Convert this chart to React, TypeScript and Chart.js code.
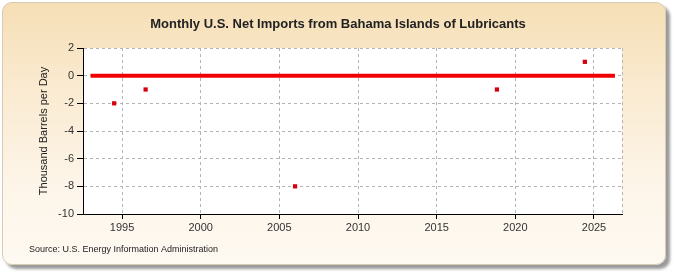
import React, { useEffect, useRef } from "react";
import { Chart, registerables } from "chart.js";

Chart.register(...registerables);

const TITLE = "Monthly U.S. Net Imports from Bahama Islands of Lubricants";
const Y_TITLE = "Thousand Barrels per Day";
const SOURCE = "Source: U.S. Energy Information Administration";

// Monthly series: zero throughout the period, plus a few isolated non-zero months
const zeroPeriod = [1993.0, 2026.33]; // first and last month shown (decimal year)
const pointDates = [1994.5, 1996.5, 2006.0, 2018.83, 2024.42];
const pointValues = [-2, -1, -8, -1, 1];

const xTicks = [1995, 2000, 2005, 2010, 2015, 2020, 2025];
const yTicks = [2, 0, -2, -4, -6, -8, -10];
const xRange = [1992.52, 2026.78];
const yRange = [-10, 2];

const FONT = "'Liberation Sans', Arial, sans-serif";

const decorPlugin = {
  id: "decor",
  beforeDraw(chart: any) {
    const { ctx, chartArea: a } = chart;
    ctx.save();
    ctx.fillStyle = "#ffffff";
    ctx.fillRect(a.left, a.top, a.right - a.left, a.bottom - a.top);
    ctx.restore();
  },
  afterDraw(chart: any) {
    const { ctx, chartArea: a } = chart;
    ctx.save();
    // right dashed border
    ctx.strokeStyle = "#b4b4b4";
    ctx.lineWidth = 1;
    ctx.setLineDash([3, 3]);
    ctx.beginPath();
    ctx.moveTo(Math.round(a.right) + 0.5, a.top);
    ctx.lineTo(Math.round(a.right) + 0.5, a.bottom);
    ctx.stroke();
    ctx.setLineDash([]);
    // title
    ctx.fillStyle = "#222";
    ctx.font = `bold 13px ${FONT}`;
    ctx.textAlign = "center";
    ctx.textBaseline = "middle";
    ctx.fillText(TITLE, 338, 24);
    // y title
    ctx.font = `11px ${FONT}`;
    ctx.fillStyle = "#222";
    ctx.translate(44, (a.top + a.bottom) / 2);
    ctx.rotate(-Math.PI / 2);
    ctx.fillText(Y_TITLE, 0, 0);
    ctx.setTransform(1, 0, 0, 1, 0, 0);
    // source
    ctx.font = `9px ${FONT}`;
    ctx.textAlign = "left";
    ctx.fillText(SOURCE, 29, 250);
    ctx.restore();
  },
};

export default function App() {
  const ref = useRef<HTMLCanvasElement>(null);
  useEffect(() => {
    const canvas = ref.current!;
    const chart = new Chart(canvas, {
      type: "scatter",
      data: {
        datasets: [
          {
            type: "line",
            data: zeroPeriod.map((x) => ({ x, y: 0 })),
            borderColor: "#f00000",
            borderWidth: 4,
            pointRadius: 0,
            borderCapStyle: "butt",
          },
          {
            type: "scatter",
            data: pointDates.map((x, i) => ({ x, y: pointValues[i] })),
            backgroundColor: "#d8000f",
            borderWidth: 0,
            pointStyle: "rect",
            pointRadius: 3,
          },
        ],
      },
      plugins: [decorPlugin],
      options: {
        animation: false,
        responsive: false,
        events: [],
        layout: { padding: { left: 0, right: 53, top: 48, bottom: 41 } },
        plugins: { legend: { display: false }, tooltip: { enabled: false }, title: { display: false } },
        scales: {
          x: {
            type: "linear",
            min: xRange[0],
            max: xRange[1],
            afterBuildTicks: (s: any) => {
              s.ticks = xTicks.map((v) => ({ value: v }));
            },
            afterFit: (s: any) => {
              s.height = 20;
            },
            ticks: {
              callback: (v: any) => String(v),
              color: "#333",
              font: { family: FONT, size: 11 },
              padding: 2,
              maxRotation: 0,
              autoSkip: false,
            },
            grid: { color: "#b4b4b4", tickColor: "#000", tickLength: 5, lineWidth: 1 },
            border: { color: "#000", width: 1, dash: [3, 3] },
          },
          y: {
            type: "linear",
            min: yRange[0],
            max: yRange[1],
            afterBuildTicks: (s: any) => {
              s.ticks = yTicks.map((v) => ({ value: v }));
            },
            afterFit: (s: any) => {
              s.width = 83;
            },
            ticks: {
              callback: (v: any) => String(v),
              color: "#333",
              font: { family: FONT, size: 11 },
              padding: 3,
            },
            grid: { color: "#b4b4b4", tickColor: "#000", tickLength: 6, lineWidth: 1 },
            border: { color: "#000", width: 1, dash: [3, 3] },
          },
        },
      },
    } as any);
    return () => chart.destroy();
  }, []);

  return (
    <div style={{ position: "fixed", left: 0, top: 0, width: 675, height: 275, background: "#fff" }}>
      <div
        style={{
          position: "absolute",
          left: 2,
          top: 2,
          width: 662,
          height: 261,
          borderRadius: 10,
          border: "1px solid #d8cbb4",
          background: "linear-gradient(to bottom, #f6dfb6 0%, #faebd2 35%, #fdf5e9 70%, #fef9f1 100%)",
          boxShadow: "4px 4px 3px #9a9a9a",
        }}
      />
      <canvas ref={ref} width={675} height={275} style={{ position: "absolute", left: 0, top: 0 }} />
    </div>
  );
}
